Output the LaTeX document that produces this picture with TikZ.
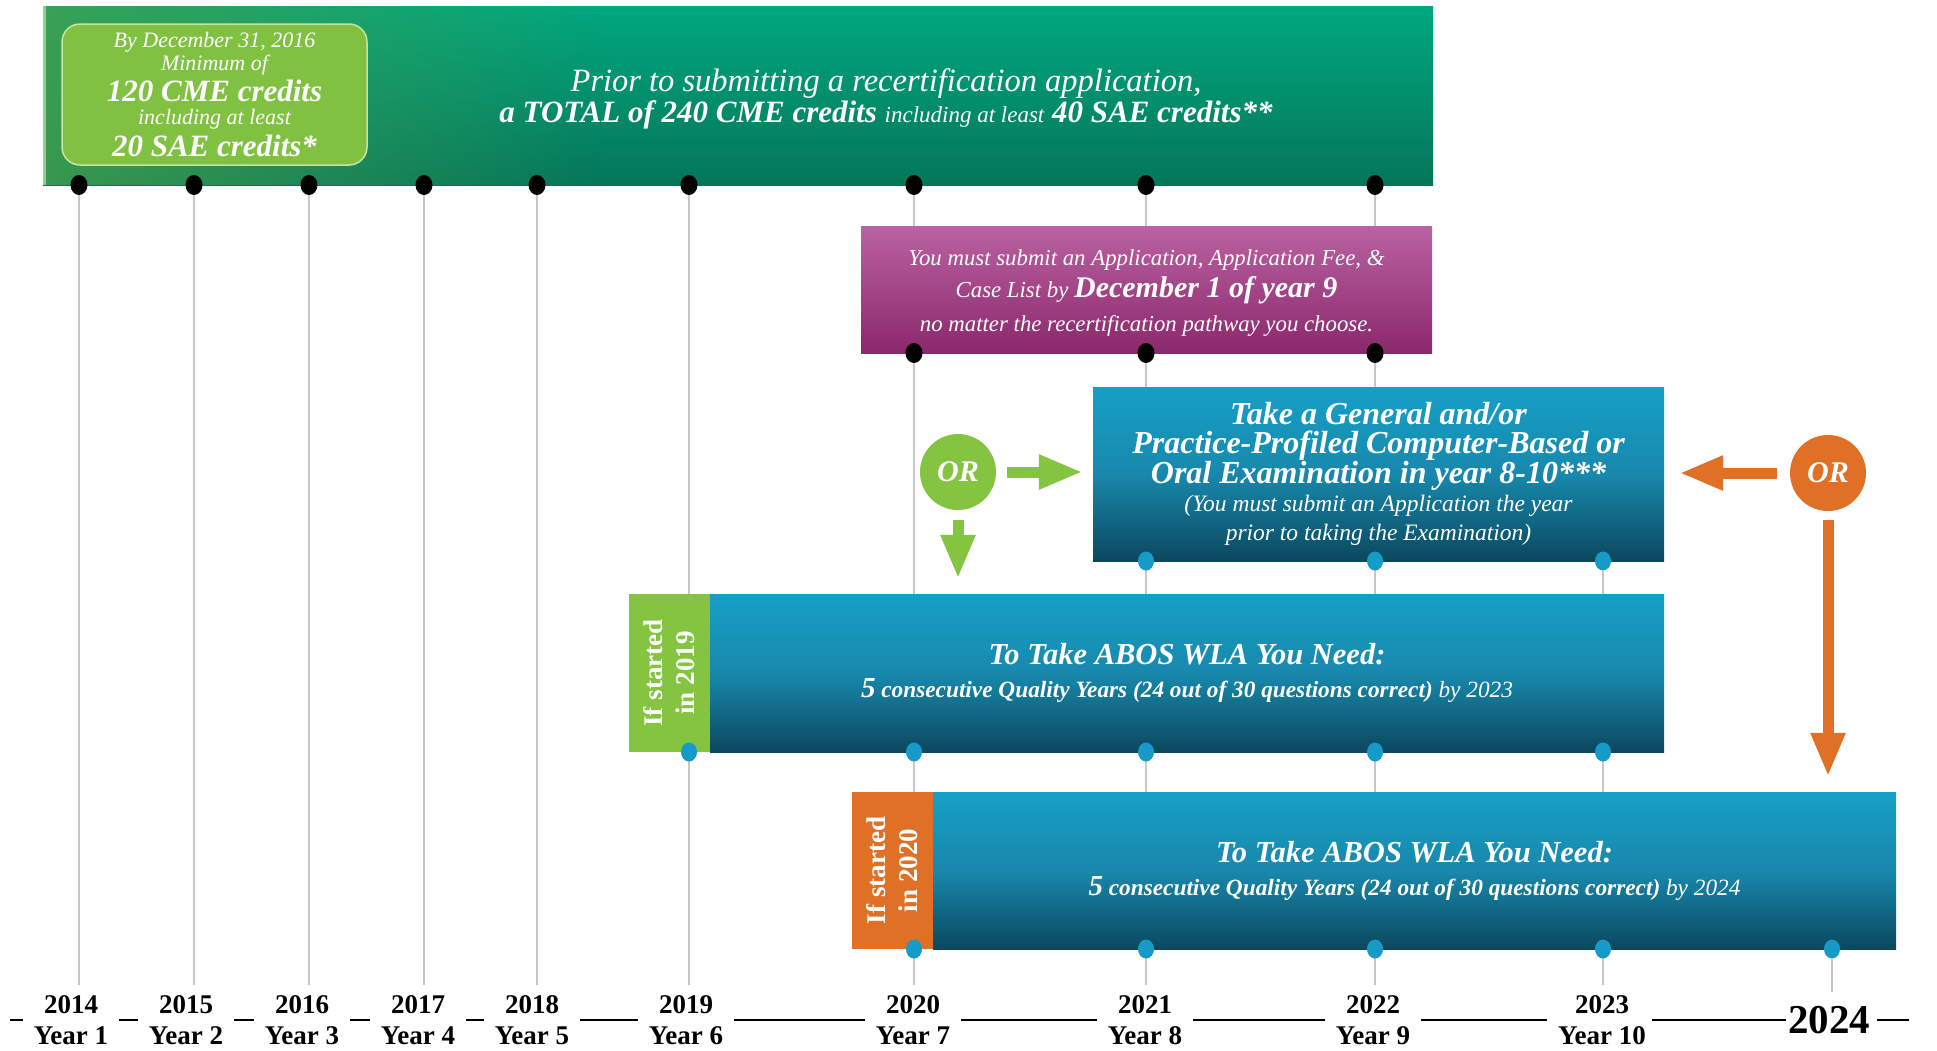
\documentclass[tikz,border=0pt]{standalone}
\usepackage{fontspec}
\setmainfont{Liberation Serif}
\usetikzlibrary{arrows.meta,shapes.geometric,backgrounds,fadings,positioning}

\definecolor{bannertop}{RGB}{0,168,127}
\definecolor{bannerbot}{RGB}{4,118,90}
\definecolor{bannerleft}{RGB}{70,160,75}
\definecolor{bannerrim}{RGB}{150,205,140}
\definecolor{limegreen}{RGB}{128,193,66}
\definecolor{limerim}{RGB}{200,228,160}
\definecolor{plumtop}{RGB}{186,98,162}
\definecolor{plumbot}{RGB}{138,40,108}
\definecolor{tealtop}{RGB}{22,160,198}
\definecolor{tealmid}{RGB}{24,136,172}
\definecolor{tealbot}{RGB}{11,72,94}
\definecolor{dotblue}{RGB}{22,155,200}
\definecolor{orgreen}{RGB}{132,196,65}
\definecolor{ororange}{RGB}{223,112,38}
\definecolor{linegray}{RGB}{200,200,200}

\newcommand{\txtsize}[2]{\fontsize{#1}{#2}\selectfont}

\begin{document}
\begin{tikzpicture}[x=1pt,y=-1pt,
  yearline/.style={draw=linegray,line width=1.5pt,shorten >=8pt},
  blackdot/.style={ellipse,fill=black,minimum width=17pt,minimum height=20pt,inner sep=0pt},
  bluedot/.style={ellipse,fill=dotblue,minimum width=16pt,minimum height=19pt,inner sep=0pt},
  tealbox/.style={rectangle,top color=tealtop,bottom color=tealbot,middle color=tealmid,
    inner sep=0pt,text=white,align=center},
  tabbox/.style={rectangle,rotate=90,inner sep=0pt,text=white,align=center,
    minimum height=81pt,font=\txtsize{27}{32}\bfseries},
  or node/.style={circle,minimum size=76pt,inner sep=0pt,text=white,
    font=\txtsize{30}{30}\bfseries\itshape},
  block arrow/.style={line width=11pt,-{Triangle[length=44pt,width=32pt]}},
  year label/.style={align=center,inner sep=2pt,font=\txtsize{27}{31}\bfseries},
  axisseg/.style={line width=2pt,shorten <=9pt,shorten >=9pt}]
\useasboundingbox (0,0) rectangle (1937,1050);

% CME credit banner
  \node[rectangle,top color=bannertop,bottom color=bannerbot,minimum width=1390pt,
    minimum height=179pt,inner sep=0pt] (banner) at (738,95.5) {};
  \fill[bannerleft,fill opacity=0.8,path fading=east]
    (banner.north west) rectangle ([xshift=560pt]banner.south west);
  \draw[bannerrim,line width=3pt] ([xshift=1.5pt]banner.north west) -- ([xshift=1.5pt]banner.south west);

  \node[rectangle,rounded corners=18pt,fill=limegreen,draw=limerim,line width=1.5pt,
    minimum width=305pt,minimum height=141pt,inner sep=0pt,align=center,text=white,
    font=\txtsize{22}{23}\itshape] (first120) at (214.5,94.5)
    {By December 31, 2016\\Minimum of\\[4pt]
     {\txtsize{31}{31}\bfseries 120 CME credits}\\including at least\\[4pt]
     {\txtsize{31}{31}\bfseries 20 SAE credits*}};

  \node[text=white,align=center,font=\txtsize{31}{31}\itshape] (total240) at (886,98.5)
    {{\txtsize{32.5}{31}Prior to submitting a recertification application,}\\
     {\bfseries a TOTAL of 240 CME credits} {\txtsize{23}{31}including at least}
     {\bfseries 40 SAE credits**}};

% application box
  \node[rectangle,top color=plumtop,bottom color=plumbot,minimum width=571pt,
    minimum height=127pt,inner sep=0pt] (apply) at (1146.5,289.5) {};
  \node[text=white,align=center,font=\txtsize{22.8}{32}\itshape] (applytxt)
    at ([yshift=-4pt]apply.center)
    {You must submit an Application, Application Fee, \&\\
     Case List by {\txtsize{30}{32}\bfseries December 1 of year 9}\\[2pt]
     no matter the recertification pathway you choose.};

% examination box
  \node[tealbox,minimum width=571pt,minimum height=174pt,
    font=\txtsize{32}{28.5}\bfseries\itshape] (exam) at (1378.5,474)
    {Take a General and/or\\Practice-Profiled Computer-Based or\\
     Oral Examination in year 8-10***\\
     {\txtsize{23.5}{28.5}\mdseries (You must submit an Application the year}\\
     {\txtsize{23.5}{28.5}\mdseries prior to taking the Examination)}};

% WLA boxes
  \node[tealbox,minimum width=954pt,minimum height=158pt,
    font=\txtsize{23.3}{33}\bfseries\itshape] (wla19) at (1187,673)
    {{\txtsize{30.5}{33}To Take ABOS WLA You Need:}\\
     {\txtsize{29}{33}5} consecutive Quality Years (24 out of 30 questions correct)
     {\mdseries by 2023}};
  \node[tabbox,fill=orgreen,minimum width=158pt] (tab19) at (669.5,673)
    {If started\\in 2019};

  \node[tealbox,minimum width=963pt,minimum height=157pt,
    font=\txtsize{23.3}{33}\bfseries\itshape] (wla20) at (1414.5,870.5)
    {{\txtsize{30.5}{33}To Take ABOS WLA You Need:}\\
     {\txtsize{29}{33}5} consecutive Quality Years (24 out of 30 questions correct)
     {\mdseries by 2024}};
  \node[tabbox,fill=ororange,minimum width=157pt] (tab20) at (892.5,870.5)
    {If started\\in 2020};

% OR circles
  \node[or node,fill=orgreen] (orleft) at (958,472) {OR};
  \node[or node,fill=ororange] (orright) at (1828,473) {OR};

  \draw[block arrow,orgreen,shorten <=11pt,shorten >=10pt] (orleft) -- (orleft -| exam.west);
  \draw[block arrow,orgreen,shorten <=10pt,shorten >=15pt] (orleft) -- (orleft |- wla19.north);
  \draw[block arrow,ororange,shorten <=13pt,shorten >=15pt] (orright) -- (orright -| exam.east);
  \draw[block arrow,ororange,shorten <=9pt,shorten >=15pt] (orright) -- (orright |- wla20.north);

% dots on the banner
  \node[blackdot] (cr2014) at (79,185) {};
  \node[blackdot] (cr2015) at (194,185) {};
  \node[blackdot] (cr2016) at (309,185) {};
  \node[blackdot] (cr2017) at (424,185) {};
  \node[blackdot] (cr2018) at (537,185) {};
  \node[blackdot] (cr2019) at (689,185) {};
  \node[blackdot] (cr2020) at (914,185) {};
  \node[blackdot] (cr2021) at (1146,185) {};
  \node[blackdot] (cr2022) at (1375,185) {};

% dots on the application box
  \node[blackdot] (ap2020) at (914,353) {};
  \node[blackdot] (ap2021) at (1146,353) {};
  \node[blackdot] (ap2022) at (1375,353) {};

% dots on the examination box
  \node[bluedot] (ex2021) at (1146,561) {};
  \node[bluedot] (ex2022) at (1375,561) {};
  \node[bluedot] (ex2023) at (1603,561) {};

% dots on the WLA boxes
  \node[bluedot] (qa2019) at (689,752) {};
  \node[bluedot] (qa2020) at (914,752) {};
  \node[bluedot] (qa2021) at (1146,752) {};
  \node[bluedot] (qa2022) at (1375,752) {};
  \node[bluedot] (qa2023) at (1603,752) {};

  \node[bluedot] (qb2020) at (914,949) {};
  \node[bluedot] (qb2021) at (1146,949) {};
  \node[bluedot] (qb2022) at (1375,949) {};
  \node[bluedot] (qb2023) at (1603,949) {};
  \node[bluedot] (qb2024) at (1832,949) {};

% year labels
  \node[year label] (y2014) at (71,1020) {2014\\Year 1};
  \node[year label] (y2015) at (186,1020) {2015\\Year 2};
  \node[year label] (y2016) at (302,1020) {2016\\Year 3};
  \node[year label] (y2017) at (418,1020) {2017\\Year 4};
  \node[year label] (y2018) at (532,1020) {2018\\Year 5};
  \node[year label] (y2019) at (686,1020) {2019\\Year 6};
  \node[year label] (y2020) at (913,1020) {2020\\Year 7};
  \node[year label] (y2021) at (1145,1020) {2021\\Year 8};
  \node[year label] (y2022) at (1373,1020) {2022\\Year 9};
  \node[year label] (y2023) at (1602,1020) {2023\\Year 10};
  \node[inner sep=2pt,font=\txtsize{41}{41}\bfseries] (y2024) at (1829,1020) {2024};

  \coordinate (axisL) at (10,1020);
  \coordinate (axisR) at (1909,1020);
  \draw[axisseg,shorten <=0pt] (axisL) -- (y2014);
  \draw[axisseg] (y2014) -- (y2015);
  \draw[axisseg] (y2015) -- (y2016);
  \draw[axisseg] (y2016) -- (y2017);
  \draw[axisseg] (y2017) -- (y2018);
  \draw[axisseg] (y2018) -- (y2019);
  \draw[axisseg] (y2019) -- (y2020);
  \draw[axisseg] (y2020) -- (y2021);
  \draw[axisseg] (y2021) -- (y2022);
  \draw[axisseg] (y2022) -- (y2023);
  \draw[axisseg,shorten <=4pt,shorten >=0pt] (y2023) -- (y2024);
  \draw[axisseg,shorten <=5pt,shorten >=0pt] (y2024) -- (axisR);

% YEAR LINES
\begin{scope}[on background layer]
  \draw[yearline] (cr2014) -- (cr2014 |- y2014.north);
  \draw[yearline] (cr2015) -- (cr2015 |- y2015.north);
  \draw[yearline] (cr2016) -- (cr2016 |- y2016.north);
  \draw[yearline] (cr2017) -- (cr2017 |- y2017.north);
  \draw[yearline] (cr2018) -- (cr2018 |- y2018.north);
  \draw[yearline] (cr2019) -- (cr2019 |- y2019.north);
  \draw[yearline] (cr2020) -- (cr2020 |- y2020.north);
  \draw[yearline] (cr2021) -- (cr2021 |- y2021.north);
  \draw[yearline] (cr2022) -- (cr2022 |- y2022.north);
  \draw[yearline] (ex2023) -- (ex2023 |- y2023.north);
  \draw[yearline,shorten >=12pt] (qb2024) -- (qb2024 |- y2024.north);
\end{scope}

\end{tikzpicture}
\end{document}
